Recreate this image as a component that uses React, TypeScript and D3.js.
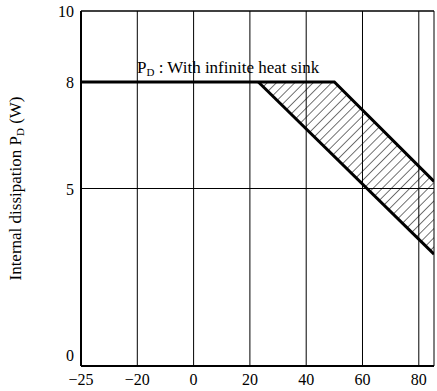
import React from "react";
import * as d3 from "d3";

// Ambient temperature ticks (°C) and power ticks (W)
const xTicks = [-25, -20, 0, 20, 40, 60, 80];
const xGrid = [-20, 0, 20, 40, 60, 80];
const yTicks = [0, 5, 8, 10];
const yGrid = [5];

// Derating curves: P_D (W) vs ambient temperature
const upperCurve: [number, number][] = [
  [-25, 8],
  [50, 8],
  [85.4, 5.2],
];
const lowerCurve: [number, number][] = [
  [23, 8],
  [85.4, 3.15],
];

const W = 437;
const H = 391;
const margin = { top: 11, right: 3, bottom: 25, left: 81 };

export default function App() {
  // broken axis: -25 .. -20 is compressed
  const x = d3
    .scaleLinear()
    .domain([-25, -20, 85.4])
    .range([margin.left, 137.3, W - margin.right]);
  const y = d3
    .scaleLinear()
    .domain([0, 10])
    .range([H - margin.bottom, margin.top]);

  const line = d3
    .line<[number, number]>()
    .x((d) => x(d[0]))
    .y((d) => y(d[1]));

  // hatched band between curves
  const band: [number, number][] = [
    ...upperCurve.filter((d) => d[0] >= lowerCurve[0][0]),
    ...lowerCurve.slice().reverse(),
  ];

  const font = "'Liberation Serif', 'Times New Roman', serif";
  const x0 = margin.left;
  const x1 = W - margin.right;
  const yTop = margin.top;
  const yBot = H - margin.bottom;

  return (
    <svg
      width={W}
      height={H}
      style={{ position: "absolute", left: 0, top: 0, background: "#fff" }}
      fontFamily={font}
    >
      <defs>
        <pattern
          id="hatch"
          patternUnits="userSpaceOnUse"
          width={6.5}
          height={6.5}
          patternTransform="rotate(45)"
        >
          <line x1={0} y1={0} x2={0} y2={6.5} stroke="#000" strokeWidth={1.1} />
        </pattern>
        <clipPath id="plot">
          <rect x={x0} y={yTop} width={x1 - x0} height={yBot - yTop} />
        </clipPath>
      </defs>

      {xGrid.map((t) => (
        <line key={t} x1={x(t)} x2={x(t)} y1={yTop} y2={yBot} stroke="#000" strokeWidth={1} />
      ))}
      {yGrid.map((t) => (
        <line key={t} x1={x0} x2={x1} y1={y(t)} y2={y(t)} stroke="#000" strokeWidth={1} />
      ))}

      <g clipPath="url(#plot)">
        <path d={line(band) ?? ""} fill="url(#hatch)" stroke="none" />
        <path d={line(upperCurve) ?? ""} fill="none" stroke="#000" strokeWidth={3} />
        <path d={line(lowerCurve) ?? ""} fill="none" stroke="#000" strokeWidth={3} />
      </g>

      {/* frame */}
      <line x1={x0} x2={x0} y1={yTop} y2={yBot} stroke="#000" strokeWidth={2} />
      <line x1={x0} x2={x1} y1={yBot} y2={yBot} stroke="#000" strokeWidth={2} />
      <line x1={x0} x2={x1} y1={yTop} y2={yTop} stroke="#000" strokeWidth={1.5} />
      <line x1={x1} x2={x1} y1={yTop} y2={yBot} stroke="#000" strokeWidth={1} />

      {xTicks.map((t) => (
        <text key={t} x={x(t)} y={yBot + 19} textAnchor="middle" fontSize={16}>
          {t < 0 ? `\u2212${Math.abs(t)}` : t}
        </text>
      ))}
      {yTicks.map((t) => (
        <text
          key={t}
          x={x0 - 7}
          y={y(t) + (t === 0 ? -5 : 6)}
          textAnchor="end"
          fontSize={16}
        >
          {t}
        </text>
      ))}

      <text x={137} y={73} fontSize={17}>
        P<tspan fontSize={11} dy={3}>D</tspan>
        <tspan dy={-3}> : With infinite heat sink</tspan>
      </text>

      <text
        transform={`translate(21,${y(5)}) rotate(-90)`}
        textAnchor="middle"
        fontSize={17}
      >
        Internal dissipation P<tspan fontSize={11} dy={3}>D</tspan>
        <tspan dy={-3}> (W)</tspan>
      </text>
    </svg>
  );
}
